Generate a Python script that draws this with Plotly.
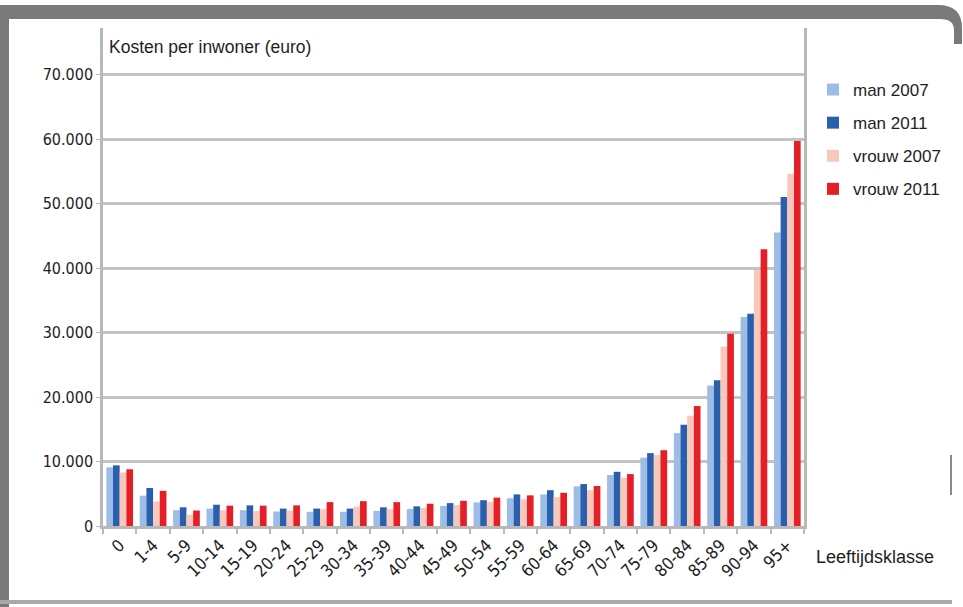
import plotly.graph_objects as go

categories = ["0", "1-4", "5-9", "10-14", "15-19", "20-24", "25-29", "30-34", "35-39",
              "40-44", "45-49", "50-54", "55-59", "60-64", "65-69", "70-74", "75-79",
              "80-84", "85-89", "90-94", "95+"]

man_2007 = [9100, 4700, 2450, 2700, 2450, 2250, 2200, 2200, 2350, 2650, 3100, 3650,
            4300, 4900, 6150, 7900, 10600, 14400, 21800, 32400, 45500]
man_2011 = [9400, 5900, 2900, 3300, 3200, 2700, 2700, 2700, 2900, 3050, 3550, 4000,
            4900, 5550, 6500, 8400, 11300, 15700, 22600, 32900, 51000]
vrouw_2007 = [8300, 3800, 1750, 2450, 2300, 2400, 2600, 3000, 2600, 2800, 3250, 3750,
              4150, 4500, 5550, 7500, 11000, 17100, 27800, 39700, 54600]
vrouw_2011 = [8800, 5450, 2400, 3150, 3150, 3200, 3700, 3850, 3700, 3450, 3900, 4400,
              4750, 5150, 6200, 8050, 11750, 18600, 29800, 42900, 59700]

series_names = ["man 2007", "man 2011", "vrouw 2007", "vrouw 2011"]
series_values = [man_2007, man_2011, vrouw_2007, vrouw_2011]
series_colors = ["#9dbde6", "#2a5fae", "#f8c8bb", "#e41f26"]

y_tickvals = [0, 10000, 20000, 30000, 40000, 50000, 60000, 70000]
y_ticktext = ["0", "10.000", "20.000", "30.000", "40.000", "50.000", "60.000", "70.000"]

W, H = 963, 607
L, R, T, B = 103, 804, 28, 526
PX_PER_10K = 64.5
y_max = (B - T) / PX_PER_10K * 10000


def px(x):
    return (x - L) / (R - L)


def py(y):
    return (B - y) / (B - T)


FONT = "Liberation Sans, Arial, Helvetica, sans-serif"
NARROW = "Liberation Sans Narrow, Arial Narrow, DejaVu Sans Condensed, Liberation Sans, sans-serif"
TXT = "#1e1e1e"

fig = go.Figure()
for i, (name, vals, col) in enumerate(zip(series_names, series_values, series_colors)):
    fig.add_trace(go.Bar(
        x=categories, y=vals, name=name, marker_color=col,
        marker_line_width=0, legendgroup=f"g{i}",
    ))

frame_col = "#7a7a7a"
top_path = (
    f"M {px(0)},{py(5)} L {px(938)},{py(5)} "
    f"Q {px(962)},{py(5)} {px(962)},{py(28)} L {px(962)},{py(44)} "
    f"L {px(954)},{py(44)} L {px(954)},{py(30)} "
    f"Q {px(954)},{py(19)} {px(940)},{py(19)} L {px(0)},{py(19)} Z"
)

shapes = [
    dict(type="rect", xref="paper", yref="paper", x0=px(0), x1=px(9), y0=py(607), y1=py(5),
         fillcolor=frame_col, line_width=0, layer="below"),
    dict(type="path", xref="paper", yref="paper", path=top_path,
         fillcolor=frame_col, line_width=0, layer="below"),
    dict(type="rect", xref="paper", yref="paper", x0=px(0), x1=px(952), y0=py(604), y1=py(600),
         fillcolor="#a9a9a9", line_width=0, layer="below"),
    dict(type="line", xref="paper", yref="paper", x0=px(951), x1=px(951), y0=py(495), y1=py(455),
         line=dict(color="#8a8a8a", width=2), layer="below"),
]

fig.update_layout(
    width=W, height=H,
    margin=dict(l=L, r=W - R, t=T, b=H - B),
    paper_bgcolor="white",
    plot_bgcolor="rgba(0,0,0,0)",
    barmode="group", bargap=0.2, bargroupgap=0.0,
    font=dict(family=FONT, color=TXT, size=15),
    showlegend=True,
    legend=dict(
        x=px(813), y=py(72), xanchor="left", yanchor="top",
        font=dict(size=17, family=FONT, color=TXT),
        tracegroupgap=8, bgcolor="rgba(0,0,0,0)",
        itemclick=False,
    ),
    shapes=shapes,
    annotations=[
        dict(text="Kosten per inwoner (euro)", xref="paper", yref="paper",
             x=px(107), y=py(47), xanchor="left", yanchor="middle", showarrow=False,
             font=dict(size=17.5, family=FONT, color=TXT)),
        dict(text="Leeftijdsklasse", xref="paper", yref="paper",
             x=px(814), y=py(557), xanchor="left", yanchor="middle", showarrow=False,
             font=dict(size=18, family=FONT, color=TXT)),
    ],
)

fig.update_xaxes(
    type="category", showline=True, linecolor="#b8b8b8", linewidth=2.5,
    ticks="outside", tickson="boundaries", ticklen=5, tickcolor="#b8b8b8", tickwidth=1.5,
    tickangle=-45, tickfont=dict(size=17, family=NARROW, color=TXT),
    showgrid=False, zeroline=False,
)
fig.update_yaxes(
    range=[0, y_max], tickvals=y_tickvals, ticktext=y_ticktext,
    showline=True, mirror=True, linecolor="#b8b8b8", linewidth=2.5,
    ticks="outside", ticklen=4, tickcolor="#b8b8b8",
    showgrid=True, gridcolor="#c3c3c3", gridwidth=3,
    zeroline=False, tickfont=dict(size=16, family=NARROW, color=TXT),
)

fig.write_html("out.html")
